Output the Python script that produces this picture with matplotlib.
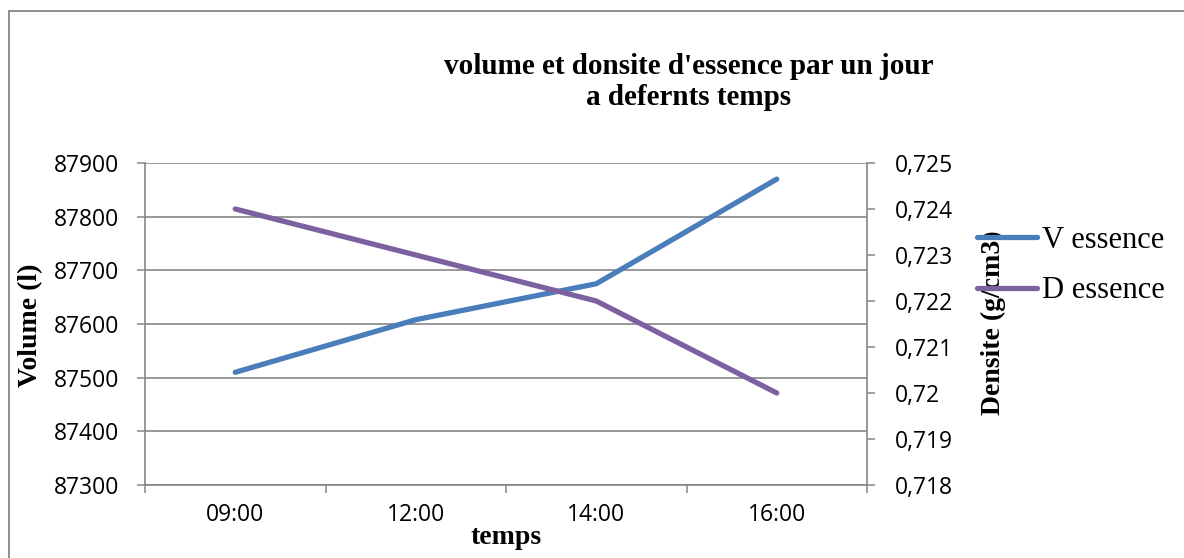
import numpy as np
import matplotlib
matplotlib.use("Agg")
import matplotlib.pyplot as plt
from matplotlib.patches import Rectangle
from matplotlib.ticker import FuncFormatter, MultipleLocator

# data
temps = ['09:00', '12:00', '14:00', '16:00']
v_essence = [87510, 87608, 87675, 87870]     # volume (l)
d_essence = [0.724, 0.723, 0.722, 0.720]     # densite (g/cm3)

grey = '#868686'
blue = '#4A7EBB'
purple = '#7D60A0'
sans = 'Open Sans'
serif = 'Liberation Serif'

W, H = 1184, 558
fig = plt.figure(figsize=(W / 100, H / 100), dpi=100)
ax = fig.add_axes([145 / W, 1 - 485 / H, (867 - 145) / W, (485 - 163) / H])
ax2 = ax.twinx()

x = np.arange(len(temps))
ax.plot(x, v_essence, color=blue, lw=3.8, solid_capstyle='round',
        solid_joinstyle='round', label='V essence')
ax2.plot(x, d_essence, color=purple, lw=3.8, solid_capstyle='round',
         solid_joinstyle='round', label='D essence')

# axes ranges
ax.set_xlim(-0.5, len(temps) - 0.5)
ax.set_ylim(87300, 87900)
ax.yaxis.set_major_locator(MultipleLocator(100))
ax2.set_ylim(0.718, 0.725)
ax2.set_yticks(np.arange(0.718, 0.72501, 0.001))
ax2.yaxis.set_major_formatter(
    FuncFormatter(lambda v, p: f"{v:.3f}".rstrip('0').replace('.', ',')))

# category ticks between the categories, labels in the middle
ax.set_xticks(np.arange(-0.5, len(temps), 1.0))
ax.set_xticklabels([])
ax.set_xticks(x, minor=True)
ax.set_xticklabels(temps, minor=True)

ax.yaxis.grid(True, color=grey, lw=1.2)
ax.set_axisbelow(True)
for a in (ax, ax2):
    for s in a.spines.values():
        s.set_color(grey)
        s.set_linewidth(1.2)
    a.spines['top'].set_visible(False)
ax.spines['right'].set_visible(False)
ax2.spines['left'].set_visible(False)
ax2.spines['bottom'].set_visible(False)

ax.tick_params(axis='both', which='major', direction='out', length=5.8,
               width=1.1, color=grey, labelsize=16.5, pad=12.5)
ax.tick_params(axis='x', which='minor', length=0, labelsize=16.5, pad=13)
ax2.tick_params(axis='y', direction='out', length=5.8, width=1.1,
                color=grey, labelsize=16.5, pad=14)
for lab in ax.get_yticklabels() + ax.get_xticklabels(minor=True) + ax2.get_yticklabels():
    lab.set_fontfamily(sans)

# titles and axis names
fig.text(689 / W, 1 - 82 / H, "volume et donsite d'essence par un jour\na defernts temps",
         ha='center', va='center', fontsize=21, fontweight='bold',
         family=serif, linespacing=1.17)
fig.text(506 / W, 1 - 538 / H, 'temps', ha='center', va='center',
         fontsize=20, fontweight='bold', family=serif)
fig.text(31 / W, 1 - 325 / H, 'Volume (l)', rotation=90, ha='center', va='center',
         fontsize=20, fontweight='bold', family=serif)
fig.text(993 / W, 1 - 323 / H, 'Densite (g/cm3)', rotation=90, ha='center',
         va='center', fontsize=20, fontweight='bold', family=serif)

# legend on the right
h1, l1 = ax.get_legend_handles_labels()
h2, l2 = ax2.get_legend_handles_labels()
fig.legend(h1 + h2, l1 + l2, loc='center left', bbox_to_anchor=(977 / W, 1 - 265.5 / H),
           frameon=False, borderpad=0, borderaxespad=0, handlelength=1.95,
           handletextpad=0.17, labelspacing=0.7,
           prop={'family': serif, 'size': 22})

# grey chart border (runs off the right and bottom edges)
fig.add_artist(Rectangle((8.7 / W, -0.1), 1.2, 1.1 - 11.2 / H, transform=fig.transFigure,
                         fill=False, edgecolor=grey, lw=1.3))

fig.savefig('out.png', dpi=100, facecolor='white')
